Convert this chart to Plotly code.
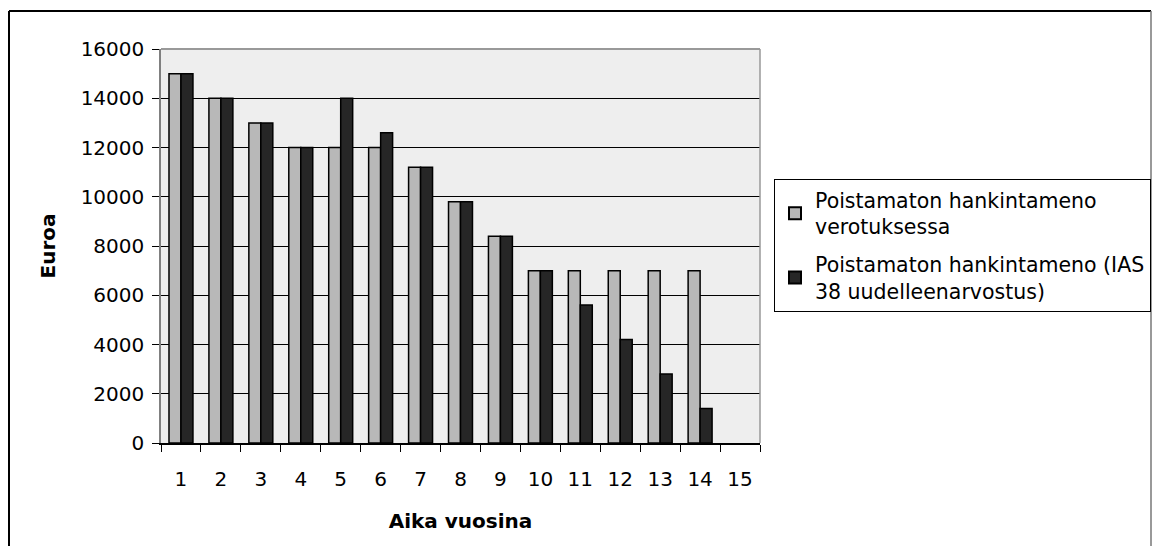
import plotly.graph_objects as go

years = [str(i) for i in range(1, 16)]
vero = [15000, 14000, 13000, 12000, 12000, 12000, 11200, 9800, 8400, 7000, 7000, 7000, 7000, 7000, None]
ias = [15000, 14000, 13000, 12000, 14000, 12600, 11200, 9800, 8400, 7000, 5600, 4200, 2800, 1400, None]
name_vero = "Poistamaton hankintameno<br>verotuksessa"
name_ias = "Poistamaton hankintameno (IAS<br>38 uudelleenarvostus)"

FONT = "DejaVu Sans"

fig = go.Figure()
fig.add_trace(go.Bar(x=years, y=vero, name=name_vero, legendgroup="a",
                     marker=dict(color="#b8b8b8", line=dict(color="#000000", width=1.5))))
fig.add_trace(go.Bar(x=years, y=ias, name=name_ias, legendgroup="b",
                     marker=dict(color="#262626", line=dict(color="#000000", width=1.5))))

# page body has an 8px margin on every side; keep the figure inside the window
O = 8
W, H = 1160 - 2 * O, 554 - 2 * O
PL, PR, PT, PB = 161, 760, 49, 443  # plot area on screen
L, T = PL - O, PT - O
R = W - (PR - O)
B = H - (PB - O)
pw = PR - PL
ph = PB - PT

def px(x):
    return (x - PL) / pw

def py(y):
    return (PB - y) / ph

RIGHT_EDGE = O + W - 1  # outermost drawable screen x

fig.update_layout(
    width=W, height=H,
    margin=dict(l=L, r=R, t=T, b=B, pad=0, autoexpand=False),
    paper_bgcolor="white",
    plot_bgcolor="#eeeeee",
    barmode="group",
    bargap=0.4,
    bargroupgap=0,
    font=dict(family=FONT, size=20, color="black"),
    showlegend=True,
    legend=dict(
        x=px(774), y=py(179), xanchor="left", yanchor="top",
        bordercolor="black", borderwidth=1, bgcolor="white",
        font=dict(family=FONT, size=20.5, color="black"),
        tracegroupgap=8, itemsizing="constant",
    ),
    xaxis=dict(
        type="category", categoryorder="array", categoryarray=years,
        showgrid=False, showline=True, linecolor="black", linewidth=1.5,
        ticks="outside", ticklen=7, tickcolor="black", tickson="boundaries",
        ticklabelstandoff=17, automargin=False,
        tickfont=dict(family=FONT, size=20, color="black"),
        title=dict(text="<b>Aika vuosina</b>", font=dict(family=FONT, size=20, color="black"), standoff=24),
    ),
    yaxis=dict(
        range=[0, 16000], dtick=2000, tick0=0, tickformat="d",
        showgrid=True, gridcolor="#000000", gridwidth=1,
        showline=True, linecolor="#808080", linewidth=1.5,
        ticks="outside", ticklen=7, tickcolor="black",
        ticklabelstandoff=4, automargin=False,
        tickfont=dict(family=FONT, size=20, color="black"),
        zeroline=False,
        title=dict(text="<b>Euroa</b>", font=dict(family=FONT, size=20, color="black"), standoff=20),
    ),
    shapes=[
        dict(type="line", xref="paper", yref="paper", x0=0, x1=1, y0=1, y1=1,
             line=dict(color="#999999", width=2)),
        dict(type="line", xref="paper", yref="paper", x0=1, x1=1, y0=0, y1=1,
             line=dict(color="#999999", width=1.5)),
        dict(type="line", xref="paper", yref="paper", x0=px(9), x1=px(RIGHT_EDGE), y0=py(11), y1=py(11),
             line=dict(color="black", width=2)),
        dict(type="line", xref="paper", yref="paper", x0=px(9), x1=px(9), y0=py(11), y1=py(600),
             line=dict(color="black", width=2)),
        dict(type="line", xref="paper", yref="paper", x0=px(RIGHT_EDGE), x1=px(RIGHT_EDGE), y0=py(11), y1=py(600),
             line=dict(color="#777777", width=1.5)),
    ],
)

fig.write_html("out.html")
